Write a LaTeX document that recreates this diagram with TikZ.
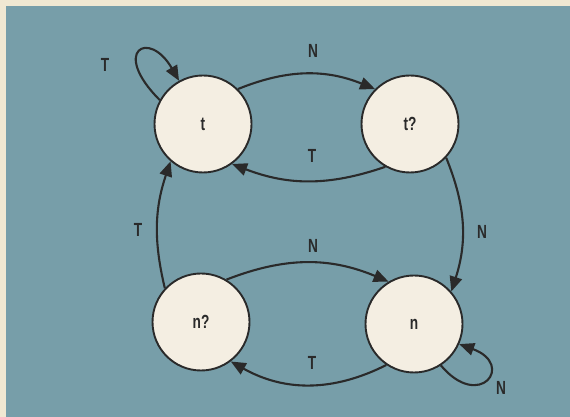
\documentclass[tikz,border=0pt]{standalone}
\usepackage{fontspec}
\setmainfont{Liberation Sans}[FakeStretch=0.72]
\usetikzlibrary{arrows.meta}
\definecolor{bgblue}{HTML}{779EA9}
\definecolor{framecream}{HTML}{F0E8D2}
\definecolor{statefill}{HTML}{F4EEE2}
\definecolor{ink}{HTML}{2A2A2A}
\tikzset{
  state/.style={circle, draw=ink, line width=1.9pt, fill=statefill, minimum size=97pt, inner sep=0pt,
    font=\fontsize{19}{22}\selectfont\bfseries, text=ink},
  lbl/.style={font=\fontsize{19}{22}\selectfont\bfseries, text=ink, inner sep=0pt},
  edge/.style={draw=ink, line width=2.1pt, -{Triangle[length=15pt,width=12.5pt]}},
}
\begin{document}
\begin{tikzpicture}[x=1pt,y=1pt]
\useasboundingbox (0,0) rectangle (570,417);
\fill[framecream] (0,0) rectangle (570,417);
\fill[bgblue] (6,0) rectangle (570,411);
\node[state] (t) at (203,293) {t};
\node[state] (tq) at (410,293) {t?};
\node[state] (nq) at (201,95) {n?};
\node[state] (n) at (414,93) {n};
\draw[edge] (t.45) to[bend left=22] (tq.135);
\draw[edge] (tq.240) to[bend left=20] (t.306);
\draw[edge] (tq.317) to[bend left=20] (n.41);
\draw[edge] (nq.137) to[bend left=16] (t.229);
\draw[edge] (nq.59) to[bend left=22] (n.121);
\draw[edge] (n.236) to[bend left=28] (nq.307);
\draw[edge] (t.151) .. controls +(135:70) and +(120:60) .. (t.119);
\draw[edge] (n.303) .. controls +(310:60) and +(340:60) .. (n.336);
\node[lbl] (l1) at (105,352) {T};
\node[lbl] (l2) at (313,366) {N};
\node[lbl] (l3) at (312,261) {T};
\node[lbl] (l4) at (138,187) {T};
\node[lbl] (l5) at (482,185) {N};
\node[lbl] (l6) at (313,171) {N};
\node[lbl] (l7) at (312,54) {T};
\node[lbl] (l8) at (501,29) {N};
\end{tikzpicture}
\end{document}
